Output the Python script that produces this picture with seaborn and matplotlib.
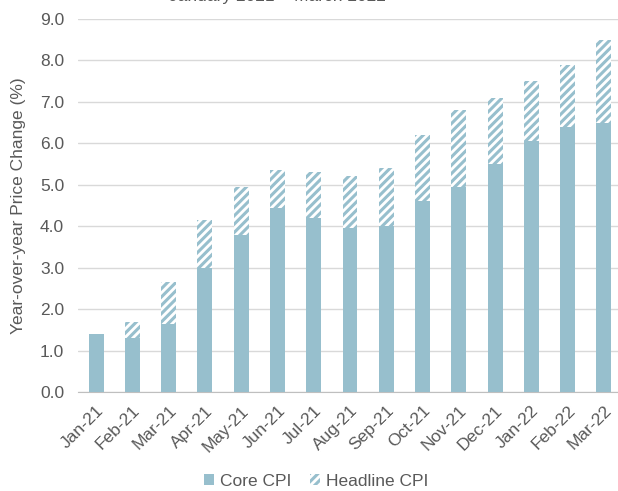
# %% Requirements and constants
import matplotlib
matplotlib.use("Agg")
import matplotlib.pyplot as plt
import matplotlib.patches as mpatches
import seaborn as sns
import pandas as pd

months = ["Jan-21", "Feb-21", "Mar-21", "Apr-21", "May-21", "Jun-21", "Jul-21",
          "Aug-21", "Sep-21", "Oct-21", "Nov-21", "Dec-21", "Jan-22", "Feb-22", "Mar-22"]
core_cpi = [1.4, 1.3, 1.65, 3.0, 3.8, 4.45, 4.2, 3.95, 4.0, 4.6, 4.95, 5.5, 6.05, 6.4, 6.5]
headline_cpi = [1.4, 1.7, 2.65, 4.15, 4.95, 5.35, 5.3, 5.2, 5.4, 6.2, 6.8, 7.1, 7.5, 7.9, 8.5]

title = "January 2021 \u2013 March 2022"
ylabel = "Year-over-year Price Change (%)"
bar_color = "#97BFCD"
text_color = "#595959"
hatch = "////"

# %% Plot
sns.set_style("white")
plt.rcParams["font.family"] = ["Liberation Sans", "DejaVu Sans"]
plt.rcParams["hatch.linewidth"] = 2.2

df = pd.DataFrame({"month": months, "core": core_cpi, "headline": headline_cpi})

fig = plt.figure(figsize=(6.18, 4.91), dpi=100)
ax = fig.add_axes([78 / 618, 99 / 491, 544 / 618, 373 / 491])

# headline total drawn hatched, core drawn solid in front of it
sns.barplot(data=df, x="month", y="headline", color="white", width=0.41,
            linewidth=0, ax=ax)
n_head = len(ax.patches)
sns.barplot(data=df, x="month", y="core", color=bar_color, width=0.41,
            linewidth=0, saturation=1, ax=ax)
for p in ax.patches[:n_head]:
    p.set_facecolor("white")
    p.set_edgecolor(bar_color)
    p.set_hatch(hatch)
    p.set_linewidth(0)
for p in ax.patches[n_head:]:
    p.set_facecolor(bar_color)
    p.set_zorder(3)

ax.set_xlim(-0.5, len(months) - 0.5)
ax.set_ylim(0, 9)
ax.set_yticks([i for i in range(10)])
ax.set_yticklabels([f"{i:.1f}" for i in range(10)])
ax.yaxis.grid(True, color="#D9D9D9", linewidth=1)
ax.set_axisbelow(True)
for s in ["top", "right", "left"]:
    ax.spines[s].set_visible(False)
ax.spines["bottom"].set_color("#BFBFBF")

ax.set_xticks(range(len(months)))
ax.set_xticklabels(months, rotation=45, ha="right", rotation_mode="anchor")
ax.set_xticks([i - 0.5 for i in range(len(months) + 1)], minor=True)
ax.tick_params(axis="x", which="major", length=0, pad=8, labelsize=12.5, colors=text_color)
ax.tick_params(axis="x", which="minor", length=5, color="#BFBFBF", width=1)
ax.tick_params(axis="y", length=0, pad=10, labelsize=12.5, colors=text_color)

ax.set_xlabel("")
ax.set_ylabel(ylabel, fontsize=12.5, color=text_color, labelpad=10)

# title sits mostly above the top edge, as in the source image
fig.text(277 / 618, 1 - 1 / 491, title, ha="center", va="baseline",
         fontsize=12.5, color=text_color)

handles = [mpatches.Patch(facecolor=bar_color, edgecolor=bar_color, linewidth=0, label="Core CPI"),
           mpatches.Patch(facecolor="white", edgecolor=bar_color, hatch=hatch, linewidth=0,
                          label="Headline CPI")]
fig.legend(handles=handles, loc="center", bbox_to_anchor=(316 / 618, 1 - 481 / 491),
           ncol=2, frameon=False, fontsize=12.5, handlelength=0.6, handleheight=0.6,
           handletextpad=0.3, columnspacing=1.1, labelcolor=text_color)

fig.savefig("out.png", dpi=100)
